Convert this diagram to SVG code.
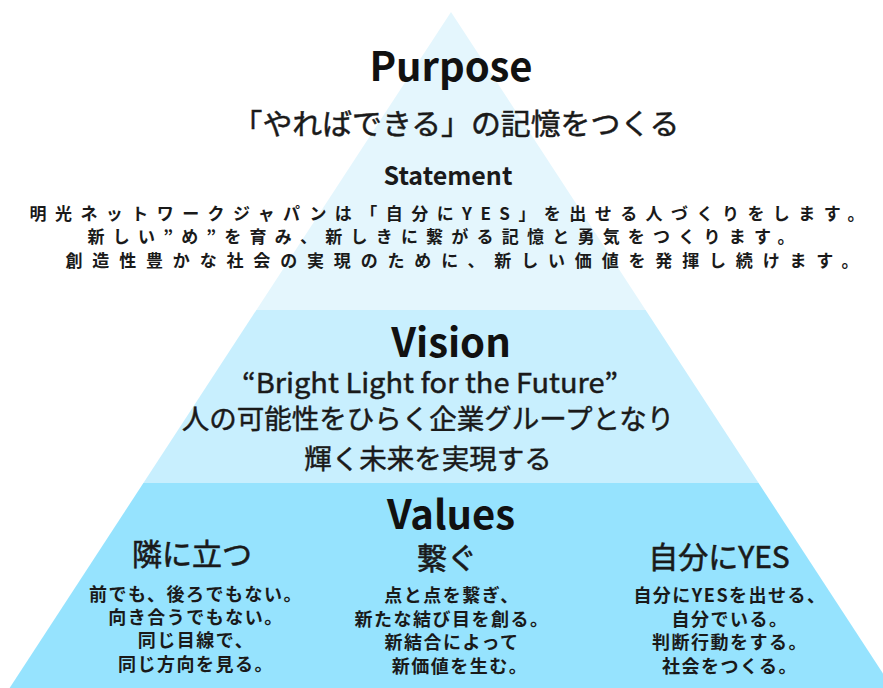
<svg xmlns="http://www.w3.org/2000/svg" width="883" height="688" viewBox="0 0 883 688">
<style>
text{font-family:"Noto Sans CJK JP","Noto Sans",sans-serif;fill:#1a1a1a;text-anchor:middle}
.h1{font-size:40px;font-weight:700;fill:#111}
.h2{font-size:29px;font-weight:400;stroke:#1a1a1a;stroke-width:0.5px}
.h3{font-size:25px;font-weight:700}
.st{font-size:17px;font-weight:700}
.vs{font-size:27.5px;font-weight:400;stroke:#1a1a1a;stroke-width:0.45px}
.ch{font-size:30px;font-weight:400;stroke:#1a1a1a;stroke-width:0.6px}
.cb{font-size:18px;font-weight:700;letter-spacing:1.5px}
</style>
<g id="pyramid">
<polygon id="band-purpose" points="451,12 645.6,310 256.4,310" fill="#e4f6fd"/>
<polygon id="band-vision" points="256.4,310 645.6,310 758.6,483 143.4,483" fill="#c8effe"/>
<polygon id="band-values" points="143.4,483 758.6,483 892.4,688 9.6,688" fill="#96e3fe"/>
</g>
<g id="purpose">
<text class="h1" x="451" y="81">Purpose</text>
<text class="h2" x="456" y="135" textLength="447" lengthAdjust="spacingAndGlyphs">「やればできる」の記憶をつくる</text>
</g>
<g id="statement">
<text class="h3" x="448" y="185">Statement</text>
<text class="st" x="447" y="220" textLength="835" lengthAdjust="spacing">明光ネットワークジャパンは「自分にYES」を出せる人づくりをします。</text>
<text class="st" x="441" y="243" textLength="707" lengthAdjust="spacing">新しい”め”を育み、新しきに繋がる記憶と勇気をつくります。</text>
<text class="st" x="462" y="267" textLength="793" lengthAdjust="spacing">創造性豊かな社会の実現のために、新しい価値を発揮し続けます。</text>
</g>
<g id="vision">
<text class="h1" x="451" y="357">Vision</text>
<text class="vs" x="430" y="393" textLength="376" lengthAdjust="spacingAndGlyphs">“Bright Light for the Future”</text>
<text class="vs" x="428" y="429">人の可能性をひらく企業グループとなり</text>
<text class="vs" x="428" y="469">輝く未来を実現する</text>
</g>
<g id="values">
<text class="h1" x="451" y="529">Values</text>
</g>
<g id="value-tonari">
<text class="ch" x="192" y="565">隣に立つ</text>
<text class="cb" x="196" y="601">前でも、後ろでもない。</text>
<text class="cb" x="196" y="624">向き合うでもない。</text>
<text class="cb" x="196" y="647">同じ目線で、</text>
<text class="cb" x="196" y="671">同じ方向を見る。</text>
</g>
<g id="value-tsunagu">
<text class="ch" x="447" y="569">繋ぐ</text>
<text class="cb" x="452" y="602">点と点を繋ぎ、</text>
<text class="cb" x="452" y="626">新たな結び目を創る。</text>
<text class="cb" x="452" y="649">新結合によって</text>
<text class="cb" x="460" y="673">新価値を生む。</text>
</g>
<g id="value-yes">
<text class="ch" x="719" y="568">自分にYES</text>
<text class="cb" x="730" y="602">自分にYESを出せる、</text>
<text class="cb" x="730" y="626">自分でいる。</text>
<text class="cb" x="730" y="649">判断行動をする。</text>
<text class="cb" x="730" y="673">社会をつくる。</text>
</g>
</svg>
